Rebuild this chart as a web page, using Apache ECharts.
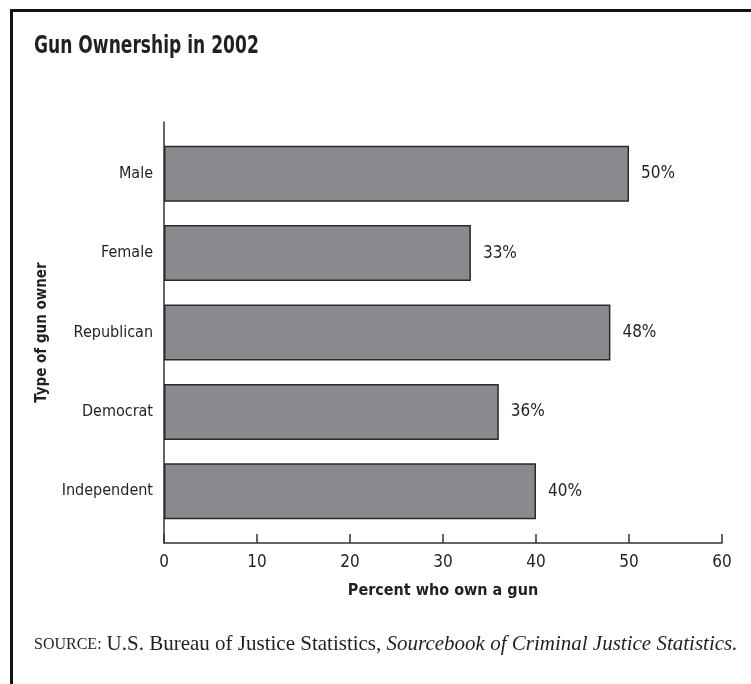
<!DOCTYPE html>
<html>
<head>
<meta charset="utf-8">
<script src="https://cdn.jsdelivr.net/npm/echarts@6/dist/echarts.min.js"></script>
<style>
  html, body { margin: 0; padding: 0; background: #fff; }
  #chart { width: 751px; height: 684px; }
</style>
</head>
<body>
<div id="chart"></div>
<script>
// data
const owners = ['Male', 'Female', 'Republican', 'Democrat', 'Independent'];
const percents = [50, 33, 48, 36, 40];
const xTicks = [0, 10, 20, 30, 40, 50, 60];

const narrow = '"DejaVu Sans Condensed", "Liberation Sans Narrow", Arial, sans-serif';
const serif = '"Liberation Serif", "Times New Roman", serif';
const ink = '#231f20';

const myChart = echarts.init(document.getElementById('chart'));

const option = {
  animation: false,
  backgroundColor: '#fff',
  title: [
    {
      // source line, SOURCE in small caps
      text: '{sc|SOURCE:} {r|U.S. Bureau of Justice Statistics, }{i|Sourcebook of Criminal Justice Statistics.}',
      left: 34,
      top: 634,
      padding: 0,
      textStyle: {
        fontWeight: 'normal',
        rich: {
          sc: { fontFamily: serif, fontSize: 16, fontWeight: 'normal', color: ink },
          r: { fontFamily: serif, fontSize: 21, fontWeight: 'normal', color: ink },
          i: { fontFamily: serif, fontSize: 21, fontWeight: 'normal', fontStyle: 'italic', color: ink }
        }
      }
    }
  ],
  graphic: [
    // frame on top and left like the scanned page
    { type: 'line', shape: { x1: 10, y1: 10.5, x2: 751, y2: 10.5 }, style: { stroke: '#111', lineWidth: 3 } },
    { type: 'line', shape: { x1: 11.5, y1: 9, x2: 11.5, y2: 684 }, style: { stroke: '#111', lineWidth: 3 } },
    // title, squeezed to look like the condensed face of the original
    {
      type: 'text',
      left: 34,
      top: 34,
      scaleX: 0.76,
      style: {
        text: 'Gun Ownership in 2002',
        font: 'bold 25px ' + narrow,
        fill: ink
      }
    }
  ],
  grid: [
    { left: 164, right: 29, top: 134, height: 397 },   // bars
    { left: 164, right: 29, top: 122, height: 421 }    // axes frame
  ],
  xAxis: [
    { gridIndex: 0, type: 'value', min: 0, max: 60, interval: 10, show: false },
    {
      gridIndex: 1, type: 'value', min: xTicks[0], max: xTicks[xTicks.length - 1], interval: 10,
      name: 'Percent who own a gun',
      nameLocation: 'middle',
      nameGap: 40,
      nameTextStyle: { fontFamily: narrow, fontWeight: 'bold', fontSize: 16, color: ink },
      axisLine: { lineStyle: { color: '#333', width: 1.5 } },
      axisTick: { length: -9, lineStyle: { color: '#333', width: 1.5 } },
      axisLabel: { margin: 11, fontFamily: narrow, fontSize: 17, color: ink },
      splitLine: { show: false }
    }
  ],
  yAxis: [
    {
      gridIndex: 0, type: 'category', data: owners, inverse: true,
      axisLine: { show: false },
      axisTick: { show: false },
      axisLabel: { margin: 11, fontFamily: narrow, fontSize: 16, color: ink }
    },
    {
      gridIndex: 1, type: 'value', min: 0, max: 1,
      name: 'Type of gun owner',
      nameLocation: 'middle',
      nameRotate: 90,
      nameGap: 114,
      nameTextStyle: { fontFamily: narrow, fontWeight: 'bold', fontSize: 15, color: ink },
      axisLine: { show: true, lineStyle: { color: '#333', width: 1.5 } },
      axisTick: { show: false },
      axisLabel: { show: false },
      splitLine: { show: false }
    }
  ],
  series: [
    {
      type: 'bar',
      xAxisIndex: 0,
      yAxisIndex: 0,
      data: percents,
      barWidth: 56,
      itemStyle: { color: '#898a8d', borderColor: '#2a2a2a', borderWidth: 1.5 },
      label: {
        show: true,
        position: 'right',
        distance: 12,
        formatter: (p) => p.value + '%',
        fontFamily: narrow,
        fontSize: 17,
        color: ink
      }
    }
  ]
};

myChart.setOption(option);
</script>
</body>
</html>
